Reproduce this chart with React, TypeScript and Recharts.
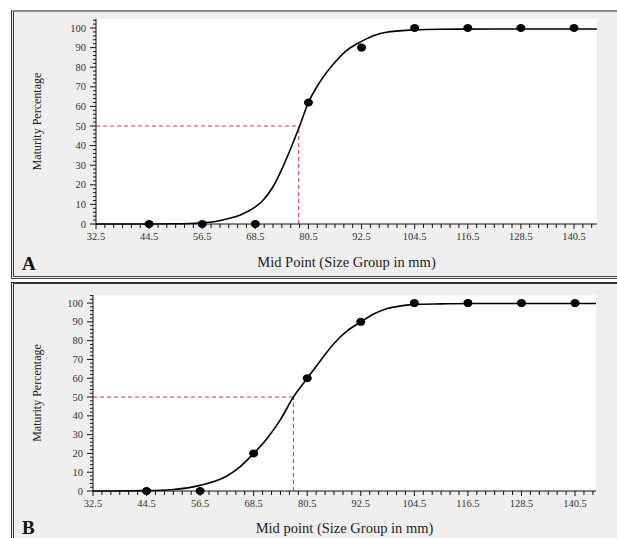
import React from "react";
import {
  ComposedChart,
  Line,
  Scatter,
  XAxis,
  YAxis,
  ReferenceLine,
  Label,
} from "recharts";

// observed maturity points (mid point in mm, % mature)
const MID_POINTS = [44.5, 56.5, 68.5, 80.5, 92.5, 104.5, 116.5, 128.5, 140.5];
const OBS_A = [0, 0, 0, 62, 90, 100, 100, 100, 100];
const OBS_B = [0, 0, 20, 60, 90, 100, 100, 100, 100];

// fitted ogive
const CURVE_A_X = [32.5, 44.5, 50.5, 56, 59.5, 62.7, 65.5, 68.5, 70.2, 72.5, 74.4, 76.5, 78.5, 80.4, 83.1, 86.1, 89.1, 92.5, 95.5, 98.1, 104.1, 110.5, 122.5, 145.7];
const CURVE_A_Y = [0, 0, 0.1, 0.5, 1.3, 2.9, 5, 8.7, 12, 19, 27.5, 38.5, 50, 61.5, 72.5, 81.5, 88.5, 93.2, 96.3, 97.8, 99, 99.4, 99.5, 99.5];
const CURVE_B_X = [32.5, 44.5, 50.5, 56.5, 62.5, 65.5, 68.5, 71.5, 74.5, 77.4, 80.5, 83.5, 86.3, 89.5, 92.5, 95.5, 98.3, 101.5, 104.6, 110.5, 116.5, 145.2];
const CURVE_B_Y = [0, 0.2, 0.8, 3, 8, 13, 20, 28, 38, 50, 60, 69.5, 78, 85.3, 90, 94.3, 97, 98.5, 99.3, 99.6, 99.8, 99.8];

// 50% maturity length
const L50_A = 78.3;
const L50_B = 77.4;

const X_MAJOR = [32.5, 44.5, 56.5, 68.5, 80.5, 92.5, 104.5, 116.5, 128.5, 140.5];
const Y_MAJOR = [0, 10, 20, 30, 40, 50, 60, 70, 80, 90, 100];

const xMinor: number[] = [];
for (let v = 32.5; v <= 145; v += 2) xMinor.push(v);
const yMinor: number[] = [];
for (let v = 0; v <= 104; v += 2) yMinor.push(v);

const SERIF = "'Liberation Serif', 'DejaVu Serif', serif";

const toRows = (xs: number[], ys: number[]) => xs.map((x, i) => ({ x, y: ys[i] }));

const XTick = (props: any) => {
  const { x, y, payload } = props;
  const major = X_MAJOR.includes(payload.value);
  return (
    <g>
      <line x1={x} x2={x} y1={y} y2={y + (major ? 5 : 4)} stroke="#111" />
      {major && (
        <text x={x} y={y + 16} textAnchor="middle" fontSize={10.5} fontFamily={SERIF} fill="#333">
          {payload.value}
        </text>
      )}
    </g>
  );
};

const YTick = (props: any) => {
  const { x, y, payload } = props;
  const major = Y_MAJOR.includes(payload.value);
  return (
    <g>
      <line x1={x} x2={x - (major ? 6 : 3)} y1={y} y2={y} stroke="#111" />
      {major && (
        <text x={x - 10} y={y + 3.5} textAnchor="end" fontSize={10.5} fontFamily={SERIF} fill="#333">
          {payload.value}
        </text>
      )}
    </g>
  );
};

const Dot = (props: any) => <ellipse cx={props.cx} cy={props.cy} rx={4.5} ry={4} fill="#000" />;

type PanelProps = {
  width: number;
  height: number;
  margin: { top: number; right: number; left: number; bottom: number };
  yAxisWidth: number;
  xAxisHeight: number;
  xMax: number;
  yMax: number;
  curve: { x: number; y: number }[];
  points: { x: number; y: number }[];
  l50: number;
  xLabel: string;
  xLabelOffset: number;
};

function MaturityChart(p: PanelProps) {
  return (
    <ComposedChart width={p.width} height={p.height} margin={p.margin}>
      <XAxis
        type="number"
        dataKey="x"
        domain={[32.5, p.xMax]}
        ticks={xMinor}
        interval={0}
        tickSize={0}
        tickMargin={0}
        tickLine={false}
        tick={<XTick />}
        height={p.xAxisHeight}
        stroke="#111"
      >
        <Label
          value={p.xLabel}
          position="insideBottom"
          offset={p.xLabelOffset}
          fontSize={14.5}
          fontFamily={SERIF}
          fill="#222"
        />
      </XAxis>
      <XAxis xAxisId="top" type="number" orientation="top" domain={[32.5, p.xMax]} height={0} tick={false} tickLine={false} stroke="#8a8a8a" />
      <YAxis
        type="number"
        dataKey="y"
        domain={[0, p.yMax]}
        ticks={yMinor}
        interval={0}
        tickSize={0}
        tickMargin={0}
        tickLine={false}
        tick={<YTick />}
        width={p.yAxisWidth}
        stroke="#111"
      >
        <Label
          value="Maturity Percentage"
          angle={-90}
          position="insideLeft"
          offset={37}
          fontSize={12}
          fontFamily={SERIF}
          fill="#222"
          style={{ textAnchor: "middle" }}
        />
      </YAxis>
      <YAxis yAxisId="right" type="number" orientation="right" domain={[0, p.yMax]} width={0} tick={false} tickLine={false} stroke="#8a8a8a" />
      <ReferenceLine
        segment={[{ x: 32.5, y: 50 }, { x: p.l50, y: 50 }]}
        stroke="#e0303a"
        strokeDasharray="4 3"
        ifOverflow="extendDomain"
      />
      <ReferenceLine
        segment={[{ x: p.l50, y: 0 }, { x: p.l50, y: 50 }]}
        stroke="#e0303a"
        strokeDasharray="4 3"
        ifOverflow="extendDomain"
      />
      <Line
        data={p.curve}
        dataKey="y"
        type="monotone"
        stroke="#000"
        strokeWidth={1.6}
        dot={false}
        activeDot={false}
        isAnimationActive={false}
      />
      <Scatter data={p.points} dataKey="y" fill="#000" shape={<Dot />} isAnimationActive={false} />
    </ComposedChart>
  );
}

export default function App() {
  const panelBase: React.CSSProperties = {
    position: "absolute",
    left: 11,
    right: 0,
    background: "#efefef",
    borderLeft: "3px double #333",
    boxSizing: "border-box",
  };
  const letter: React.CSSProperties = {
    position: "absolute",
    left: 22,
    fontFamily: SERIF,
    fontWeight: "bold",
    fontSize: 19,
    color: "#111",
    lineHeight: 1,
  };
  return (
    <div style={{ position: "absolute", left: 0, top: 0, width: 617, height: 538, background: "#fff", overflow: "hidden" }}>
      <div style={{ ...panelBase, top: 10, height: 269, borderTop: "2px solid #8c8c8c", borderBottom: "3px double #444" }} />
      <div style={{ ...panelBase, top: 282, height: 256, borderTop: "2px solid #333" }} />
      <div style={{ position: "absolute", left: 0, top: 0 }}>
        <div style={{ position: "absolute", left: 96, top: 19, width: 501, height: 205, background: "#fff" }} />
        <MaturityChart
          width={617}
          height={277}
          margin={{ top: 19, right: 20, left: 0, bottom: 0 }}
          yAxisWidth={96}
          xAxisHeight={53}
          xMax={145.7}
          yMax={104.6}
          curve={toRows(CURVE_A_X, CURVE_A_Y)}
          points={toRows(MID_POINTS, OBS_A)}
          l50={L50_A}
          xLabel="Mid Point (Size Group in mm)"
          xLabelOffset={10}
        />
      </div>
      <div style={{ position: "absolute", left: 0, top: 277 }}>
        <div style={{ position: "absolute", left: 93, top: 18, width: 503, height: 196, background: "#fff" }} />
        <MaturityChart
          width={617}
          height={261}
          margin={{ top: 18, right: 21, left: 0, bottom: 0 }}
          yAxisWidth={93}
          xAxisHeight={47}
          xMax={145.2}
          yMax={104.3}
          curve={toRows(CURVE_B_X, CURVE_B_Y)}
          points={toRows(MID_POINTS, OBS_B)}
          l50={L50_B}
          xLabel="Mid point (Size Group in mm)"
          xLabelOffset={5}
        />
      </div>
      <span style={{ ...letter, top: 254 }}>A</span>
      <span style={{ ...letter, top: 518 }}>B</span>
    </div>
  );
}
